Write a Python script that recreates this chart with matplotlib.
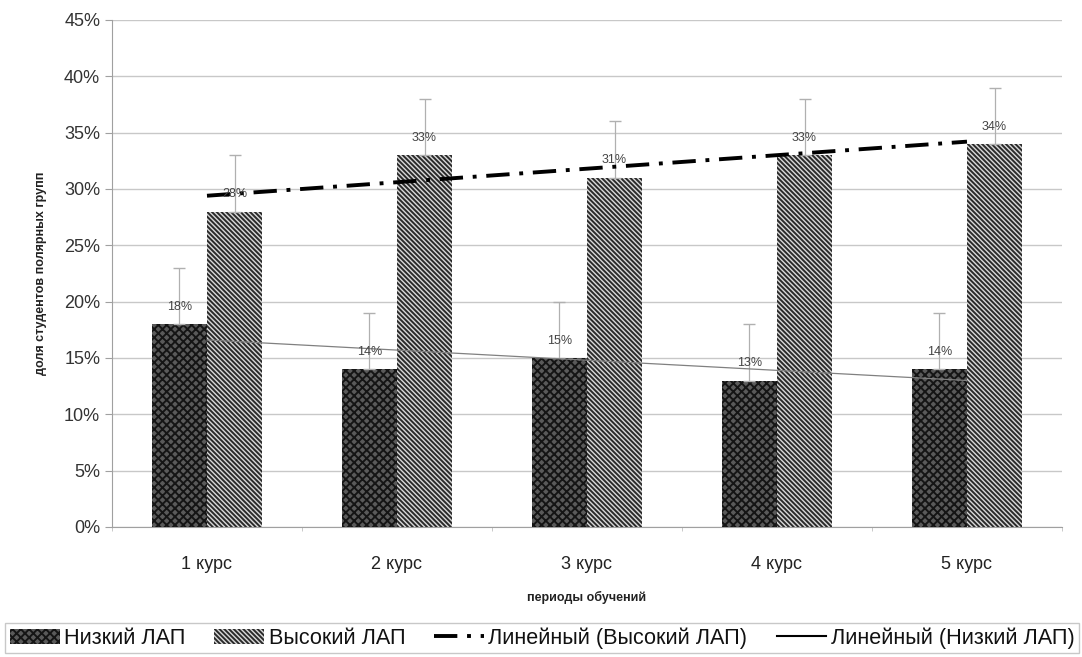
import numpy as np
import matplotlib
matplotlib.use("Agg")
import matplotlib.pyplot as plt
from matplotlib.ticker import FuncFormatter, MultipleLocator
from matplotlib.patches import Patch
from matplotlib.lines import Line2D

categories = ["1 курс", "2 курс", "3 курс", "4 курс", "5 курс"]
low_vals = [18, 14, 15, 13, 14]
high_vals = [28, 33, 31, 33, 34]
low_err = [5, 5, 5, 5, 5]
high_err = [5, 5, 5, 5, 5]
series_names = ["Низкий ЛАП", "Высокий ЛАП"]
trend_names = ["Линейный (Высокий ЛАП)", "Линейный (Низкий ЛАП)"]
y_label = "доля студентов полярных групп"
x_label = "периоды обучений"

plt.rcParams['font.family'] = ['Liberation Sans', 'DejaVu Sans']
plt.rcParams['hatch.linewidth'] = 1.4

fig = plt.figure(figsize=(10.82, 6.57), dpi=100)
ax = fig.add_axes([0.1035, 0.1979, 0.878, 0.7717])

LOW_HATCH = 'xxxx'
HIGH_HATCH = '\\' * 7
DD = (6, 2.5, 1, 2.5)

x = np.arange(len(categories))
w = 0.29
ax.bar(x - w/2, low_vals, w, color='#5a5a5a', edgecolor='#151515',
       hatch=LOW_HATCH, linewidth=0, zorder=3)
ax.bar(x + w/2, high_vals, w, color='#d8d8d8', edgecolor='#2a2a2a',
       hatch=HIGH_HATCH, linewidth=0, zorder=3)

ax.errorbar(x - w/2, low_vals, yerr=[[0]*5, low_err], fmt='none',
            ecolor='#b0b0b0', elinewidth=0.9, capsize=4, zorder=4)
ax.errorbar(x + w/2, high_vals, yerr=[[0]*5, high_err], fmt='none',
            ecolor='#b0b0b0', elinewidth=0.9, capsize=4, zorder=4)

for xi, v in zip(x - w/2, low_vals):
    ax.text(xi, v + 1.0, f"{v}%", ha='center', va='bottom', fontsize=9, color='#444', zorder=6)
for xi, v in zip(x + w/2, high_vals):
    ax.text(xi, v + 1.0, f"{v}%", ha='center', va='bottom', fontsize=9, color='#444', zorder=6)

# linear trendlines
ph = np.polyfit(x, high_vals, 1)
pl = np.polyfit(x, low_vals, 1)
ax.plot(x, np.polyval(ph, x), color='black', lw=2.8, dashes=DD, zorder=5)
ax.plot(x, np.polyval(pl, x), color='#808080', lw=0.9, zorder=5)

ax.set_xlim(-0.5, len(categories) - 0.5)
ax.set_ylim(0, 45)
ax.yaxis.set_major_locator(MultipleLocator(5))
ax.yaxis.set_major_formatter(FuncFormatter(lambda v, p: f"{int(round(v))}%"))
ax.grid(axis='y', color='#c8c8c8', lw=1, zorder=0)
ax.set_axisbelow(True)
for s in ['top', 'right']:
    ax.spines[s].set_visible(False)
ax.spines['left'].set_color('#a0a0a0')
ax.spines['bottom'].set_color('#a0a0a0')
ax.tick_params(axis='y', colors='#a0a0a0', labelcolor='#333333', labelsize=13, length=5)
ax.set_xticks(x)
ax.set_xticklabels(categories)
ax.tick_params(axis='x', length=0, labelsize=13, labelcolor='#222222', pad=21)
ax.set_xticks(np.arange(len(categories) + 1) - 0.5, minor=True)
ax.tick_params(axis='x', which='minor', length=3, color='#c0c0c0')

ax.set_ylabel(y_label, fontsize=9, fontweight='bold', color='#222', labelpad=12)
ax.set_xlabel(x_label, fontsize=9, fontweight='bold', color='#222', labelpad=13)

handles = [Patch(facecolor='#5a5a5a', edgecolor='#151515', hatch=LOW_HATCH, linewidth=0),
           Patch(facecolor='#d8d8d8', edgecolor='#2a2a2a', hatch=HIGH_HATCH, linewidth=0),
           Line2D([], [], color='black', lw=2.8, dashes=DD),
           Line2D([], [], color='black', lw=1.5)]
labels = series_names + trend_names
leg = fig.legend(handles, labels, loc='lower left',
                 bbox_to_anchor=(0.005, 0.006, 0.992, 0.05), mode='expand',
                 ncol=4, fontsize=15.6, frameon=True, fancybox=False, edgecolor='#bbbbbb',
                 handlelength=2.3, handletextpad=0.2, columnspacing=0.4,
                 borderpad=0.2, borderaxespad=0.0, labelcolor='#111')

fig.savefig("out.png", dpi=100)
